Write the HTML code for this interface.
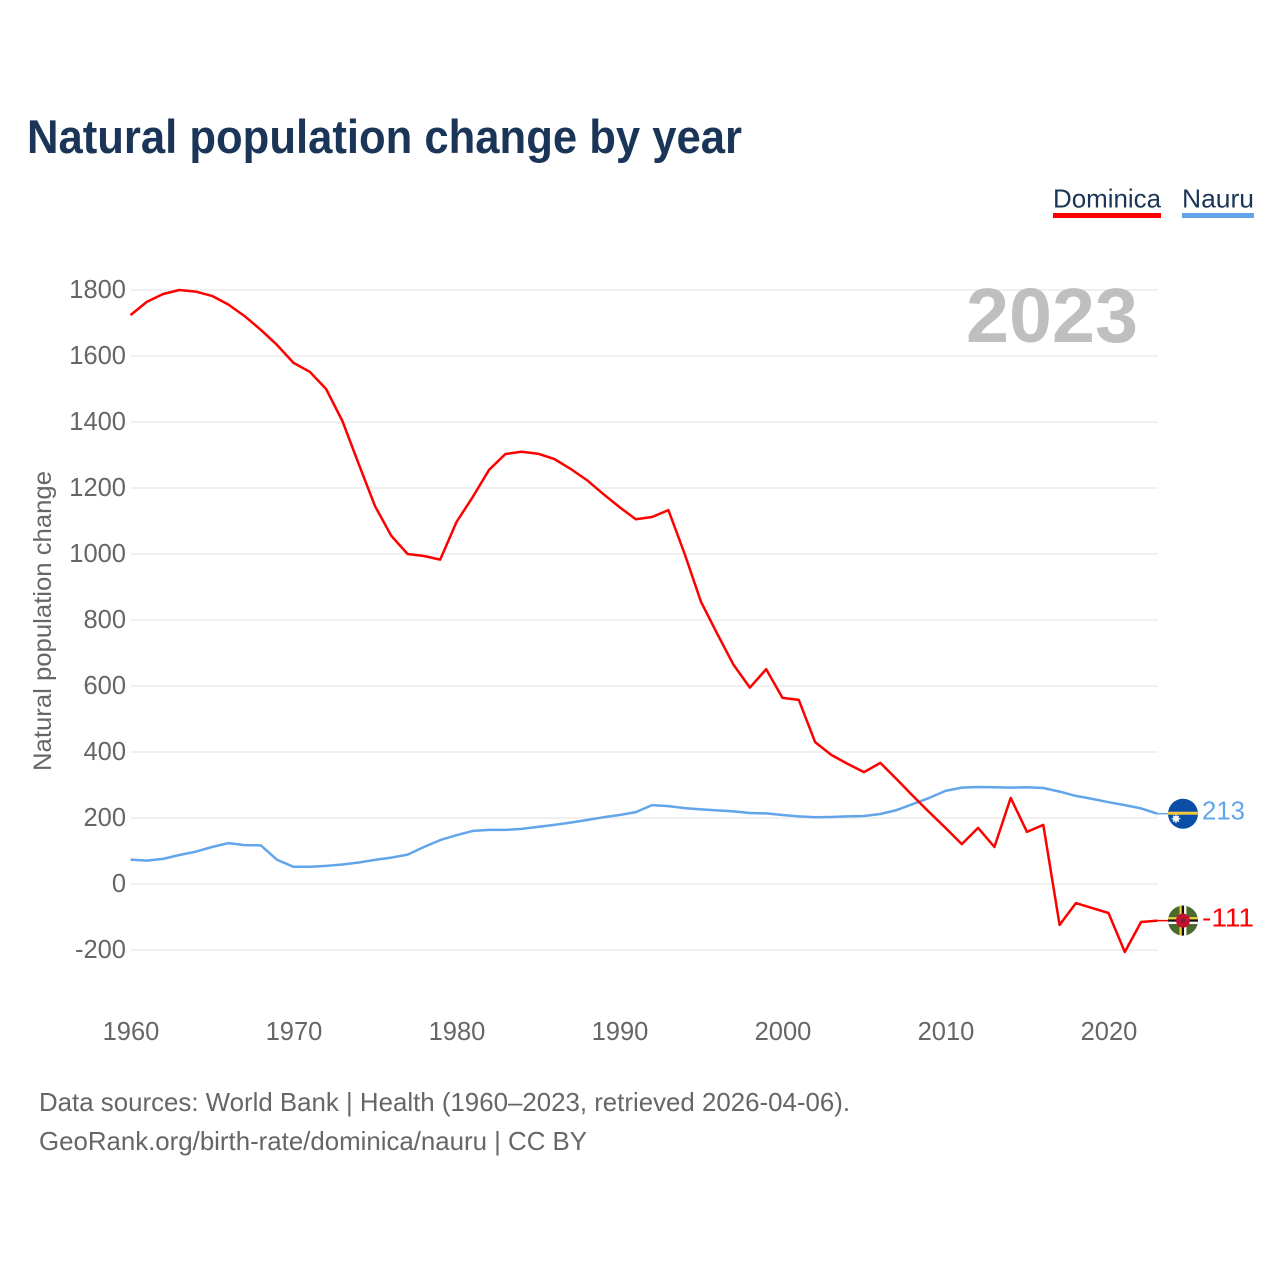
<!DOCTYPE html>
<html lang="en">
<head>
<meta charset="utf-8">
<title>Natural population change by year</title>
<style>
  html, body { margin: 0; padding: 0; background: #fff; }
  svg { display: block; font-family: "Liberation Sans", sans-serif; }
</style>
</head>
<body>
<svg id="chart" xmlns="http://www.w3.org/2000/svg" width="1280" height="1280" viewBox="0 0 1280 1280">
  <defs>
    <clipPath id="flag-clip"><circle cx="0" cy="0" r="15"></circle></clipPath>
  </defs>
  <rect width="1280" height="1280" fill="#ffffff"></rect>
  <text x="27" y="153" font-size="47" font-weight="700" fill="#1a3557" textLength="715" lengthAdjust="spacingAndGlyphs">Natural population change by year</text>

  <g>
    <text x="1053" y="207.5" font-size="26" fill="#1a3557" textLength="108" lengthAdjust="spacingAndGlyphs">Dominica</text>
    <rect x="1053" y="213" width="108" height="5" fill="#ff0000"></rect>
  </g>
  <g>
    <text x="1182" y="207.5" font-size="26" fill="#1a3557" textLength="72" lengthAdjust="spacingAndGlyphs">Nauru</text>
    <rect x="1182" y="213" width="72" height="5" fill="#62a5ea"></rect>
  </g>

  <g id="grid"></g>
  <g id="y-ticks"></g>
  <g id="x-ticks"></g>

  <text x="1138" y="342" font-size="77" font-weight="700" fill="#bfbfbf" text-anchor="end" textLength="172" lengthAdjust="spacingAndGlyphs">2023</text>
  <text transform="translate(51 621) rotate(-90)" font-size="25" fill="#666666" text-anchor="middle" textLength="300" lengthAdjust="spacingAndGlyphs">Natural population change</text>

  <path id="line-nauru" fill="none" stroke="#62a5ea" stroke-width="2.5" stroke-linejoin="round"></path>
  <path id="line-dominica" fill="none" stroke="#ff0000" stroke-width="2.5" stroke-linejoin="round"></path>
  <line id="lead-nauru" stroke="#62a5ea" stroke-width="1.5"></line>
  <line id="lead-dominica" stroke="#ff0000" stroke-width="1.5"></line>

  <g id="flag-nauru">
    <g clip-path="url(#flag-clip)">
      <rect x="-16" y="-16" width="32" height="32" fill="#0a4ea8"></rect>
      <rect x="-16" y="-2" width="32" height="3" fill="#f4c83c"></rect>
      <circle cx="-7" cy="5" r="3" fill="#ffffff"></circle>
      <path d="M-7 0.5V9.5M-11.5 5H-2.5M-10 2L-4 8M-10 8L-4 2" stroke="#ffffff" stroke-width="1"></path>
    </g>
  </g>
  <g id="flag-dominica">
    <g clip-path="url(#flag-clip)">
      <rect x="-16" y="-16" width="32" height="32" fill="#4a6b2c"></rect>
      <rect x="-16" y="-3.5" width="32" height="2.3" fill="#f4d03c"></rect>
      <rect x="-16" y="-1.2" width="32" height="2.3" fill="#111111"></rect>
      <rect x="-16" y="1.1" width="32" height="2.3" fill="#ffffff"></rect>
      <rect x="-3.5" y="-16" width="2.3" height="32" fill="#f4d03c"></rect>
      <rect x="-1.2" y="-16" width="2.3" height="32" fill="#111111"></rect>
      <rect x="1.1" y="-16" width="2.3" height="32" fill="#ffffff"></rect>
      <circle cx="0" cy="0" r="7" fill="#c8102e"></circle>
      <circle cx="0" cy="0" r="2.5" fill="#7a1f3a"></circle>
    </g>
  </g>

  <text id="value-nauru" x="1202" font-size="26" fill="#62a5ea" textLength="43" lengthAdjust="spacingAndGlyphs"></text>
  <text id="value-dominica" x="1202" font-size="26" fill="#ff0000" textLength="52" lengthAdjust="spacingAndGlyphs"></text>

  <text x="39" y="1111" font-size="26" fill="#666666" textLength="811" lengthAdjust="spacingAndGlyphs">Data sources: World Bank | Health (1960–2023, retrieved 2026-04-06).</text>
  <a><text x="39" y="1150" font-size="26" fill="#666666" textLength="548" lengthAdjust="spacingAndGlyphs">GeoRank.org/birth-rate/dominica/nauru | CC BY</text></a>
</svg>

<script>
const firstYear = 1960;
const yTickValues = [1800, 1600, 1400, 1200, 1000, 800, 600, 400, 200, 0, -200];
const xTickYears = [1960, 1970, 1980, 1990, 2000, 2010, 2020];
const dominicaValues = [
  1724, 1764, 1788, 1800, 1795, 1782, 1756, 1721, 1679, 1633,
  1579, 1552, 1500, 1403, 1273, 1145, 1055, 1000, 994, 983,
  1097, 1173, 1255, 1303, 1310, 1304, 1288, 1258, 1224, 1182,
  1142, 1105, 1112, 1133, 1000, 855, 758, 664, 595, 651,
  564, 558, 430, 391, 364, 339, 367, 318, 267, 218,
  170, 121, 170, 112, 261, 158, 179, -124, -58, -73,
  -88, -206, -115, -111
];
const nauruValues = [
  74, 71, 76, 88, 98, 112, 124, 118, 117, 73,
  52, 52, 55, 59, 65, 73, 80, 89, 112, 133,
  148, 161, 164, 164, 167, 173, 179, 186, 194, 202,
  209, 218, 239, 236, 230, 226, 223, 220, 215, 214,
  209, 205, 202, 203, 205, 206, 212, 224, 242, 261,
  282, 292, 294, 293, 292, 293, 291, 280, 267, 258,
  248, 239, 229, 213
];

function xScale(year) { return 130.5 + (year - 1960) * 16.3; }
function yScale(value) { return 884 - value * 0.33; }
function linePath(values) {
  return values.map(function (v, i) {
    return (i ? 'L' : 'M') + xScale(firstYear + i).toFixed(1) + ' ' + yScale(v).toFixed(1);
  }).join('');
}
const NS = 'http://www.w3.org/2000/svg';
const gridGroup = document.getElementById('grid');
const yGroup = document.getElementById('y-ticks');
const xGroup = document.getElementById('x-ticks');

yTickValues.forEach(function (v) {
  const gl = document.createElementNS(NS, 'line');
  
  
  gl.setAttribute('x1', 131);
  gl.setAttribute('x2', 1158);
  gl.setAttribute('y1', yScale(v));
  gl.setAttribute('y2', yScale(v));
  gl.setAttribute('stroke', '#ececec');
  gl.setAttribute('stroke-width', '1.5');
  gridGroup.appendChild(gl);

  const t = document.createElementNS(NS, 'text');
  
  
  t.setAttribute('x', 126);
  t.setAttribute('y', yScale(v) + 8);
  t.setAttribute('text-anchor', 'end');
  t.setAttribute('font-size', '25.5');
  t.setAttribute('fill', '#666666');
  t.textContent = String(v);
  yGroup.appendChild(t);
});

xTickYears.forEach(function (year) {
  const t = document.createElementNS(NS, 'text');
  
  
  t.setAttribute('x', xScale(year) + 0.5);
  t.setAttribute('y', 1040);
  t.setAttribute('text-anchor', 'middle');
  t.setAttribute('font-size', '25.5');
  t.setAttribute('fill', '#666666');
  t.textContent = String(year);
  xGroup.appendChild(t);
});

document.getElementById('line-dominica').setAttribute('d', linePath(dominicaValues));
document.getElementById('line-nauru').setAttribute('d', linePath(nauruValues));

function placeEnd(key, values) {
  const last = values[values.length - 1];
  const lastX = xScale(firstYear + values.length - 1);
  const py = yScale(last);
  document.getElementById('flag-' + key).setAttribute('transform', 'translate(1183 ' + py + ')');
  const lead = document.getElementById('lead-' + key);
  lead.setAttribute('x1', lastX);
  lead.setAttribute('x2', 1170);
  lead.setAttribute('y1', py);
  lead.setAttribute('y2', py);
  const label = document.getElementById('value-' + key);
  label.setAttribute('y', py + 6);
  label.textContent = String(last);
}
placeEnd('dominica', dominicaValues);
placeEnd('nauru', nauruValues);
</script>
</body>
</html>
